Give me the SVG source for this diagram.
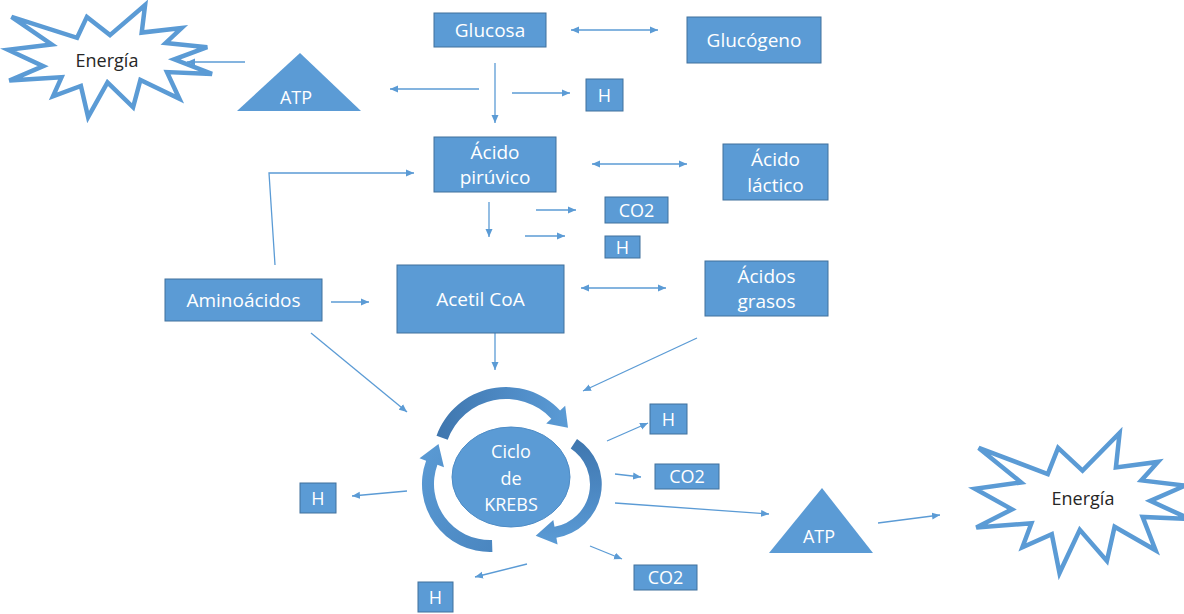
<svg xmlns="http://www.w3.org/2000/svg" width="1184" height="614" viewBox="0 0 1184 614">
<style>
.box{fill:#5B9BD5;stroke:#41719C;stroke-width:1}
.tw{fill:#FFFFFF;font-family:"Open Sans","Liberation Sans",sans-serif;font-size:19px;text-anchor:middle}
.ts{font-size:18px}
.tk{fill:#262626;font-family:"Open Sans","Liberation Sans",sans-serif;font-size:18px;text-anchor:middle}
.star{fill:#FFFFFF;stroke:#5B9BD5;stroke-width:4.5;stroke-linejoin:miter}
.c{fill:none;stroke:#5B9BD5;stroke-width:1.3}
.a{marker-end:url(#ah)}
.d{marker-start:url(#ah);marker-end:url(#ah)}
</style>
<defs>
<marker id="ah" markerUnits="userSpaceOnUse" markerWidth="9" markerHeight="8" refX="8" refY="4" orient="auto-start-reverse">
<path d="M0,0.5 L8,4 L0,7.5 z" fill="#5B9BD5"/>
</marker>
<linearGradient id="g1" x1="0" y1="0" x2="1" y2="0">
<stop offset="0" stop-color="#3F76AE"/><stop offset="0.6" stop-color="#4F8CC7"/><stop offset="1" stop-color="#5B9BD5"/>
</linearGradient>
<linearGradient id="g2" x1="0" y1="0" x2="0" y2="1">
<stop offset="0" stop-color="#3F76AE"/><stop offset="0.6" stop-color="#4F8CC7"/><stop offset="1" stop-color="#5B9BD5"/>
</linearGradient>
<linearGradient id="g3" x1="1" y1="1" x2="0" y2="0">
<stop offset="0" stop-color="#4A86C0"/><stop offset="1" stop-color="#5B9BD5"/>
</linearGradient>
</defs>

<g id="connectors">
<line class="c d" x1="571" y1="30" x2="658" y2="30"/>
<line class="c a" x1="479" y1="89" x2="390" y2="89"/>
<line class="c a" x1="495" y1="63" x2="495" y2="123"/>
<line class="c a" x1="512" y1="93" x2="570" y2="93"/>
<line class="c a" x1="245" y1="62" x2="187" y2="62"/>
<line class="c d" x1="592" y1="164" x2="687" y2="164"/>
<line class="c a" x1="536" y1="210" x2="576" y2="210"/>
<line class="c a" x1="525" y1="236" x2="565" y2="236"/>
<line class="c a" x1="489" y1="202" x2="489" y2="237"/>
<polyline class="c a" points="275,265 269,173 414,173"/>
<line class="c a" x1="331" y1="302" x2="369" y2="302"/>
<line class="c d" x1="581" y1="288" x2="666" y2="288"/>
<line class="c a" x1="311" y1="333" x2="407" y2="412"/>
<line class="c a" x1="495" y1="333" x2="495" y2="370"/>
<line class="c a" x1="697" y1="338" x2="583" y2="391"/>
<line class="c a" x1="607" y1="441" x2="648" y2="423"/>
<line class="c a" x1="615" y1="474" x2="641" y2="477"/>
<line class="c a" x1="615" y1="503" x2="769" y2="514"/>
<line class="c a" x1="590" y1="546" x2="622" y2="559"/>
<line class="c a" x1="527" y1="564" x2="475" y2="577"/>
<line class="c a" x1="407" y1="491" x2="352" y2="496"/>
<line class="c a" x1="878" y1="523" x2="940" y2="515"/>
</g>

<g id="energia-left">
<polygon class="star" points="110,35.1 145.1,5 141.7,32.6 181.6,28.1 165.7,42.9 207.2,47.2 174.3,59.3 212,73.9 167,72.1 179.4,98.8 140.4,80 133.1,107.3 107.5,82.4 88.1,117 80.9,86 53,96.3 61.5,77.3 9.3,80.6 43.2,66.1 8,49.7 51.7,44.5 11.5,16.9 77.1,37.8 86.9,16.9"/>
<text class="tk" x="107" y="67">Energía</text>
</g>

<g id="atp-left">
<polygon points="300,53 361,111 237,111" fill="#5B9BD5"/>
<text class="tw ts" x="296" y="104">ATP</text>
</g>

<g id="glucosa"><rect class="box" x="434" y="13" width="112" height="34"/><text class="tw" x="490" y="37">Glucosa</text></g>
<g id="glucogeno"><rect class="box" x="687" y="17" width="134" height="46"/><text class="tw" x="754" y="47">Glucógeno</text></g>
<g id="h1"><rect class="box" x="586" y="79" width="37" height="32"/><text class="tw ts" x="604.5" y="101.5">H</text></g>

<g id="piruvico"><rect class="box" x="434" y="137" width="122" height="55"/><text class="tw" x="495" y="159">Ácido</text><text class="tw" x="495" y="184">pirúvico</text></g>
<g id="lactico"><rect class="box" x="723" y="144" width="105" height="56"/><text class="tw" x="775.5" y="166">Ácido</text><text class="tw" x="775.5" y="192">láctico</text></g>
<g id="co2-1"><rect class="box" x="605" y="197" width="63" height="26"/><text class="tw ts" x="636.5" y="216.5">CO2</text></g>
<g id="h2"><rect class="box" x="605" y="236" width="35" height="22"/><text class="tw ts" x="622.5" y="253.5">H</text></g>

<g id="aminoacidos"><rect class="box" x="165" y="279" width="157" height="42"/><text class="tw" x="243.5" y="306.5">Aminoácidos</text></g>
<g id="acetil"><rect class="box" x="397" y="265" width="167" height="68"/><text class="tw" x="480.5" y="306">Acetil CoA</text></g>
<g id="grasos"><rect class="box" x="705" y="261" width="123" height="55"/><text class="tw" x="766.5" y="283">Ácidos</text><text class="tw" x="766.5" y="308">grasos</text></g>

<g id="krebs">
<path d="M436.5,435.7 A74,74 0 0 1 560.1,410.5 L565.2,405.8 L568,427.8 L546.2,423.5 L551.3,418.7 A62,62 0 0 0 447.7,439.8 Z" fill="url(#g1)"/>
<path d="M570.7,448.6 L577,439 A54,54 0 0 1 556.4,537.7 L557.6,544.6 L535.7,535.8 L553.3,519.9 L554.5,526.8 A43,43 0 0 0 570.7,448.6 Z" fill="url(#g2)"/>
<path d="M492.4,552 A68,68 0 0 1 426.1,460.7 L419.5,458.3 L438.5,444 L444,467.2 L437.4,464.8 A56,56 0 0 0 492,540 Z" fill="url(#g3)"/>
<ellipse cx="511" cy="477" rx="59" ry="50" fill="#5B9BD5" stroke="#4E8CC6" stroke-width="1"/>
<text class="tw ts" x="511" y="458">Ciclo</text>
<text class="tw ts" x="511" y="485">de</text>
<text class="tw ts" x="511" y="511">KREBS</text>
</g>

<g id="h3"><rect class="box" x="650" y="404" width="37" height="30"/><text class="tw ts" x="668.5" y="425.5">H</text></g>
<g id="co2-2"><rect class="box" x="655" y="464" width="64" height="25"/><text class="tw ts" x="687" y="483">CO2</text></g>
<g id="co2-3"><rect class="box" x="634" y="565" width="63" height="25"/><text class="tw ts" x="665.5" y="584">CO2</text></g>
<g id="h4"><rect class="box" x="300" y="483" width="36" height="30"/><text class="tw ts" x="318" y="504.5">H</text></g>
<g id="h5"><rect class="box" x="418" y="582" width="35" height="30"/><text class="tw ts" x="435.5" y="603.5">H</text></g>

<g id="atp-right">
<polygon points="822,488 873,553 769,553" fill="#5B9BD5"/>
<text class="tw ts" x="819" y="543">ATP</text>
</g>

<g id="energia-right">
<polygon class="star" points="1082.5,470.6 1119.6,433 1115.9,467.5 1158,461.9 1141.3,480.4 1185,485.7 1150.3,500.9 1190,519.1 1142.6,516.9 1155.6,550.3 1114.6,526.7 1106.9,560.9 1079.8,529.8 1059.5,573 1051.8,534.3 1022.4,547.2 1031.4,523.3 976.3,527.5 1012,509.3 975,488.8 1021.1,482.4 978.7,447.9 1047.8,474 1058.1,447.9"/>
<text class="tk" x="1083" y="505">Energía</text>
</g>
</svg>
